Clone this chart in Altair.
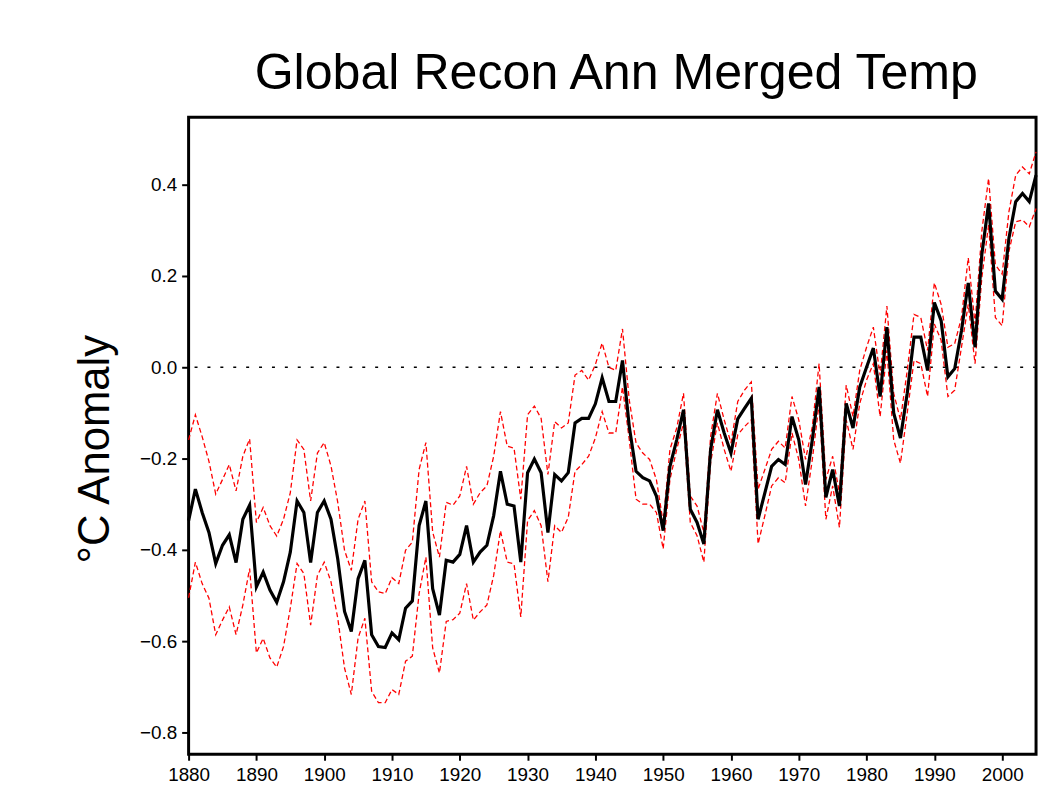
import altair as alt
import pandas as pd

years = list(range(1880, 2006))

mean_anom = [
    -0.336, -0.267, -0.318, -0.362, -0.430, -0.390, -0.367, -0.428, -0.333, -0.302,
    -0.481, -0.449, -0.488, -0.515, -0.470, -0.405, -0.293, -0.318, -0.428, -0.318,
    -0.293, -0.333, -0.420, -0.535, -0.579, -0.463, -0.423, -0.586, -0.612, -0.614,
    -0.582, -0.597, -0.528, -0.512, -0.347, -0.293, -0.485, -0.543, -0.423, -0.427,
    -0.410, -0.347, -0.427, -0.405, -0.390, -0.325, -0.228, -0.300, -0.304, -0.427,
    -0.231, -0.201, -0.231, -0.362, -0.235, -0.249, -0.231, -0.122, -0.112, -0.112,
    -0.080, -0.023, -0.075, -0.075, 0.015, -0.130, -0.228, -0.242, -0.249, -0.282,
    -0.358, -0.217, -0.159, -0.093, -0.311, -0.340, -0.387, -0.180, -0.093, -0.144,
    -0.188, -0.113, -0.090, -0.068, -0.333, -0.275, -0.217, -0.202, -0.213, -0.108,
    -0.159, -0.257, -0.159, -0.043, -0.285, -0.224, -0.304, -0.079, -0.133, -0.043,
    0.000, 0.042, -0.064, 0.088, -0.100, -0.155, -0.057, 0.066, 0.066, -0.007,
    0.142, 0.102, -0.021, -0.003, 0.080, 0.185, 0.044, 0.247, 0.359, 0.167,
    0.149, 0.283, 0.363, 0.381, 0.363, 0.421,
]

upper_anom = [
    -0.159, -0.104, -0.152, -0.206, -0.278, -0.246, -0.213, -0.271, -0.195, -0.157,
    -0.340, -0.307, -0.347, -0.370, -0.333, -0.275, -0.159, -0.180, -0.293, -0.188,
    -0.165, -0.216, -0.296, -0.401, -0.445, -0.333, -0.293, -0.470, -0.492, -0.496,
    -0.461, -0.474, -0.401, -0.383, -0.224, -0.165, -0.361, -0.416, -0.296, -0.302,
    -0.282, -0.217, -0.300, -0.275, -0.260, -0.195, -0.097, -0.173, -0.177, -0.289,
    -0.104, -0.085, -0.112, -0.235, -0.119, -0.133, -0.122, -0.017, -0.007, -0.028,
    0.006, 0.053, 0.000, -0.007, 0.084, -0.072, -0.166, -0.188, -0.202, -0.246,
    -0.340, -0.180, -0.133, -0.057, -0.282, -0.304, -0.362, -0.151, -0.057, -0.115,
    -0.166, -0.075, -0.050, -0.032, -0.267, -0.224, -0.180, -0.162, -0.177, -0.064,
    -0.115, -0.202, -0.130, 0.008, -0.246, -0.195, -0.275, -0.039, -0.108, -0.006,
    0.044, 0.088, -0.018, 0.134, -0.057, -0.115, -0.007, 0.116, 0.109, 0.037,
    0.185, 0.138, 0.044, 0.052, 0.109, 0.240, 0.095, 0.298, 0.414, 0.225,
    0.204, 0.341, 0.421, 0.439, 0.424, 0.472,
]

lower_anom = [
    -0.505, -0.427, -0.474, -0.506, -0.586, -0.554, -0.525, -0.586, -0.521, -0.441,
    -0.626, -0.594, -0.637, -0.657, -0.612, -0.528, -0.430, -0.452, -0.565, -0.456,
    -0.427, -0.470, -0.550, -0.659, -0.717, -0.593, -0.550, -0.710, -0.735, -0.735,
    -0.706, -0.717, -0.644, -0.633, -0.496, -0.416, -0.615, -0.670, -0.557, -0.553,
    -0.539, -0.474, -0.554, -0.536, -0.521, -0.456, -0.358, -0.427, -0.431, -0.547,
    -0.336, -0.314, -0.347, -0.470, -0.347, -0.362, -0.329, -0.228, -0.213, -0.195,
    -0.155, -0.097, -0.144, -0.144, -0.043, -0.159, -0.289, -0.300, -0.300, -0.318,
    -0.398, -0.246, -0.180, -0.122, -0.340, -0.369, -0.427, -0.209, -0.122, -0.180,
    -0.228, -0.148, -0.130, -0.115, -0.387, -0.325, -0.260, -0.242, -0.253, -0.144,
    -0.202, -0.304, -0.202, -0.079, -0.333, -0.260, -0.351, -0.115, -0.180, -0.079,
    -0.028, 0.008, -0.108, 0.037, -0.159, -0.210, -0.100, 0.015, 0.008, -0.064,
    0.095, 0.059, -0.064, -0.050, 0.044, 0.138, 0.008, 0.196, 0.312, 0.109,
    0.091, 0.254, 0.319, 0.323, 0.308, 0.348,
]

y_ticks = [-0.8, -0.6, -0.4, -0.2, 0.0, 0.2, 0.4]
x_ticks = list(range(1880, 2001, 10))

FONT = "Liberation Sans"

mean_df = pd.DataFrame({"year": years, "value": mean_anom})
band_df = pd.concat([
    pd.DataFrame({"year": years, "value": upper_anom, "series": "upper"}),
    pd.DataFrame({"year": years, "value": lower_anom, "series": "lower"}),
])

x_scale = alt.Scale(domain=[1880, 2005], nice=False, zero=False)
y_scale = alt.Scale(domain=[-0.848, 0.548], nice=False, zero=False)

x_axis = alt.Axis(values=x_ticks, format="d", title=None, labelFont=FONT,
                  labelFontSize=19, labelColor="black", tickColor="black",
                  tickWidth=2, tickSize=6, labelPadding=5, domain=False, grid=False,
                  labelFlush=False, labelOverlap=False)
y_axis = alt.Axis(values=y_ticks, format=".1f", title="°C Anomaly", labelFont=FONT,
                  labelFontSize=19, labelColor="black", tickColor="black",
                  tickWidth=2, tickSize=7, labelPadding=5, domain=False, grid=False,
                  labelFlush=False,
                  titleFont=FONT, titleFontSize=44, titleFontWeight="normal",
                  titleColor="black", titleAngle=270, titleX=-94, titleY=334,
                  titleAlign="center", titleBaseline="middle")

zero_line = alt.Chart(pd.DataFrame({"z": [0.0]})).mark_rule(
    color="black", strokeWidth=1.5, strokeDash=[3, 10]
).encode(y=alt.Y("z:Q", scale=y_scale, axis=y_axis))

bands = alt.Chart(band_df).mark_line(
    color="#ff0000", strokeWidth=1.3, strokeDash=[5, 3]
).encode(
    x=alt.X("year:Q", scale=x_scale, axis=x_axis),
    y=alt.Y("value:Q", scale=y_scale, axis=y_axis),
    detail="series:N",
)

mean_line = alt.Chart(mean_df).mark_line(
    color="black", strokeWidth=3.2
).encode(
    x=alt.X("year:Q", scale=x_scale, axis=x_axis),
    y=alt.Y("value:Q", scale=y_scale, axis=y_axis),
)

chart = alt.layer(zero_line, bands, mean_line).properties(
    width=854,
    height=642,
    title=alt.Title("Global Recon Ann Merged Temp", fontSize=50.5, font=FONT,
                    fontWeight="normal", color="black", anchor="middle",
                    baseline="alphabetic", offset=-22, dx=4),
    autosize=alt.AutoSizeParams(type="none"),
    padding={"left": 182, "top": 107, "right": 6, "bottom": 40},
    background="white",
).configure_view(stroke="black", strokeWidth=3)

chart.save("out.html", embed_options={"renderer": "svg", "actions": False})
